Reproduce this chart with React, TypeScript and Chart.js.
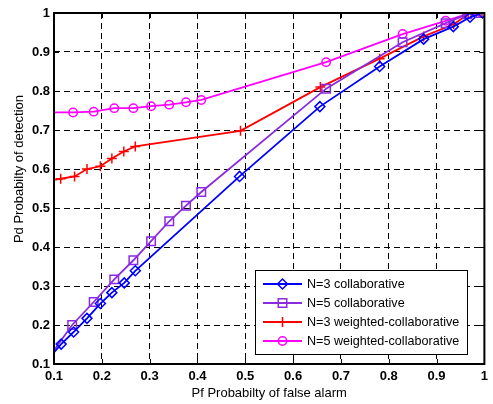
import React, { useEffect, useRef } from 'react';
import { Chart, registerables } from 'chart.js';

Chart.register(...registerables);

const FONT = '"Liberation Sans", Arial, Helvetica, sans-serif';

const tickValues = [0.1, 0.2, 0.3, 0.4, 0.5, 0.6, 0.7, 0.8, 0.9, 1];

const seriesLabels = [
  'N=3 collaborative',
  'N=5 collaborative',
  'N=3 weighted-collaborative',
  'N=5 weighted-collaborative',
];

const blueX = [0.1, 0.115, 0.141, 0.169, 0.197, 0.221, 0.247, 0.27, 0.488, 0.656, 0.781, 0.873, 0.935, 0.97, 0.996];
const blueY = [0.13, 0.151, 0.182, 0.217, 0.255, 0.283, 0.308, 0.339, 0.581, 0.76, 0.863, 0.933, 0.965, 0.989, 1.0];

const purpleX = [0.1, 0.138, 0.183, 0.226, 0.266, 0.303, 0.341, 0.376, 0.408, 0.669, 0.829, 0.919, 0.964, 0.992];
const purpleY = [0.135, 0.2, 0.259, 0.317, 0.366, 0.415, 0.466, 0.506, 0.541, 0.806, 0.925, 0.974, 0.997, 1.0];

const redX = [0.1, 0.114, 0.143, 0.169, 0.197, 0.221, 0.246, 0.27, 0.49, 0.657, 0.781, 0.873, 0.936, 0.966, 0.995];
const redY = [0.572, 0.575, 0.581, 0.6, 0.607, 0.627, 0.645, 0.658, 0.698, 0.81, 0.883, 0.94, 0.971, 0.997, 1.0];

const magentaX = [0.1, 0.14, 0.183, 0.226, 0.266, 0.303, 0.341, 0.376, 0.408, 0.669, 0.829, 0.919, 0.964, 0.994];
const magentaY = [0.745, 0.745, 0.747, 0.756, 0.756, 0.761, 0.765, 0.771, 0.777, 0.874, 0.946, 0.98, 0.997, 1.0];

const colors = ['#0000FF', '#8A2BE2', '#FF0000', '#FF00FF'];
const markers = ['rectRot', 'rect', 'cross', 'circle'];
const radii = [5, 6, 5, 4.2];

function drawMarker(ctx: CanvasRenderingContext2D, type: string, x: number, y: number, r: number) {
  ctx.beginPath();
  if (type === 'rectRot') {
    ctx.moveTo(x - r, y);
    ctx.lineTo(x, y - r);
    ctx.lineTo(x + r, y);
    ctx.lineTo(x, y + r);
    ctx.closePath();
  } else if (type === 'rect') {
    const s = r * Math.SQRT1_2;
    ctx.rect(x - s, y - s, 2 * s, 2 * s);
  } else if (type === 'cross') {
    ctx.moveTo(x - r, y);
    ctx.lineTo(x + r, y);
    ctx.moveTo(x, y - r);
    ctx.lineTo(x, y + r);
  } else {
    ctx.arc(x, y, r, 0, Math.PI * 2);
  }
  ctx.stroke();
}

export default function App() {
  const ref = useRef<HTMLCanvasElement>(null);

  useEffect(() => {
    document.body.style.margin = '0';
    const canvas = ref.current;
    if (!canvas) return;
    const mk = (xs: number[], ys: number[]) => xs.map((x, i) => ({ x, y: ys[i] }));
    const xsAll = [blueX, purpleX, redX, magentaX];
    const ysAll = [blueY, purpleY, redY, magentaY];

    const framePlugin = {
      id: 'frame',
      afterDraw(chart: any) {
        const { ctx, chartArea: a, scales } = chart;
        ctx.save();
        // inward ticks
        ctx.strokeStyle = '#000';
        ctx.lineWidth = 1;
        ctx.setLineDash([]);
        ctx.beginPath();
        for (const v of tickValues) {
          const px = Math.round(scales.x.getPixelForValue(v)) + 0.5;
          ctx.moveTo(px, a.bottom);
          ctx.lineTo(px, a.bottom - 5);
          ctx.moveTo(px, a.top);
          ctx.lineTo(px, a.top + 5);
          const py = Math.round(scales.y.getPixelForValue(v)) + 0.5;
          ctx.moveTo(a.left, py);
          ctx.lineTo(a.left + 5, py);
          ctx.moveTo(a.right, py);
          ctx.lineTo(a.right - 5, py);
        }
        ctx.stroke();
        // frame
        ctx.lineWidth = 2;
        ctx.strokeRect(a.left, a.top, a.right - a.left, a.bottom - a.top);

        // axis titles
        ctx.fillStyle = '#000';
        ctx.font = `13px ${FONT}`;
        ctx.textAlign = 'center';
        ctx.textBaseline = 'middle';
        ctx.fillText('Pf Probabilty of false alarm', (a.left + a.right) / 2, 393);
        ctx.save();
        ctx.translate(19, 169);
        ctx.rotate(-Math.PI / 2);
        ctx.fillText('Pd Probabilty of detection', 0, 0);
        ctx.restore();

        // legend
        const lx = 255, ly = 270, lw = 212, lh = 84;
        ctx.fillStyle = '#fff';
        ctx.fillRect(lx, ly, lw, lh);
        ctx.strokeStyle = '#000';
        ctx.lineWidth = 1;
        ctx.strokeRect(lx + 0.5, ly + 0.5, lw, lh);
        const rows = [284, 303, 322, 341];
        ctx.textAlign = 'left';
        ctx.font = `12.6px ${FONT}`;
        rows.forEach((ry, i) => {
          ctx.strokeStyle = colors[i];
          ctx.lineWidth = 2;
          ctx.beginPath();
          ctx.moveTo(263, ry);
          ctx.lineTo(302, ry);
          ctx.stroke();
          ctx.lineWidth = 1.5;
          drawMarker(ctx, markers[i], 282.5, ry, radii[i]);
          ctx.fillStyle = '#000';
          ctx.fillText(seriesLabels[i], 307, ry + 1);
        });
        ctx.restore();
      },
    };

    const chart = new Chart(canvas, {
      type: 'line',
      data: {
        datasets: seriesLabels.map((label, i) => ({
          label,
          data: mk(xsAll[i], ysAll[i]),
          borderColor: colors[i],
          backgroundColor: 'rgba(0,0,0,0)',
          pointBackgroundColor: 'rgba(0,0,0,0)',
          pointBorderColor: colors[i],
          pointBorderWidth: 1.5,
          pointStyle: markers[i] as any,
          pointRadius: (c: any) => (c.dataIndex === 0 ? 0 : radii[i]),
          borderWidth: 1.8,
          tension: 0,
          fill: false,
        })),
      },
      options: {
        animation: false,
        responsive: false,
        maintainAspectRatio: false,
        layout: { padding: { top: 13, right: 5, left: 0, bottom: 0 } },
        plugins: {
          legend: { display: false },
          tooltip: { enabled: false },
        },
        scales: {
          x: {
            type: 'linear',
            min: 0.1,
            max: 1,
            afterFit: (s: any) => {
              s.height = 40;
            },
            afterBuildTicks: (s: any) => {
              s.ticks = tickValues.map((v) => ({ value: v }));
            },
            ticks: {
              color: '#000',
              font: { family: FONT, size: 13, weight: 'bold' },
              padding: 5,
              maxRotation: 0,
              autoSkip: false,
              callback: (v: any) => String(Number(Number(v).toFixed(1))),
            },
            grid: { color: '#000', lineWidth: 1, drawTicks: false },
            border: { display: false, dash: [6, 4] },
          },
          y: {
            type: 'linear',
            min: 0.1,
            max: 1,
            afterFit: (s: any) => {
              s.width = 54;
            },
            afterBuildTicks: (s: any) => {
              s.ticks = tickValues.map((v) => ({ value: v }));
            },
            ticks: {
              color: '#000',
              font: { family: FONT, size: 13, weight: 'bold' },
              padding: 4,
              autoSkip: false,
              callback: (v: any) => String(Number(Number(v).toFixed(1))),
            },
            grid: { color: '#000', lineWidth: 1, drawTicks: false },
            border: { display: false, dash: [6, 4] },
          },
        },
      },
      plugins: [framePlugin],
    } as any);

    return () => chart.destroy();
  }, []);

  return <canvas ref={ref} width={493} height={404} style={{ display: 'block', width: 493, height: 404 }} />;
}
